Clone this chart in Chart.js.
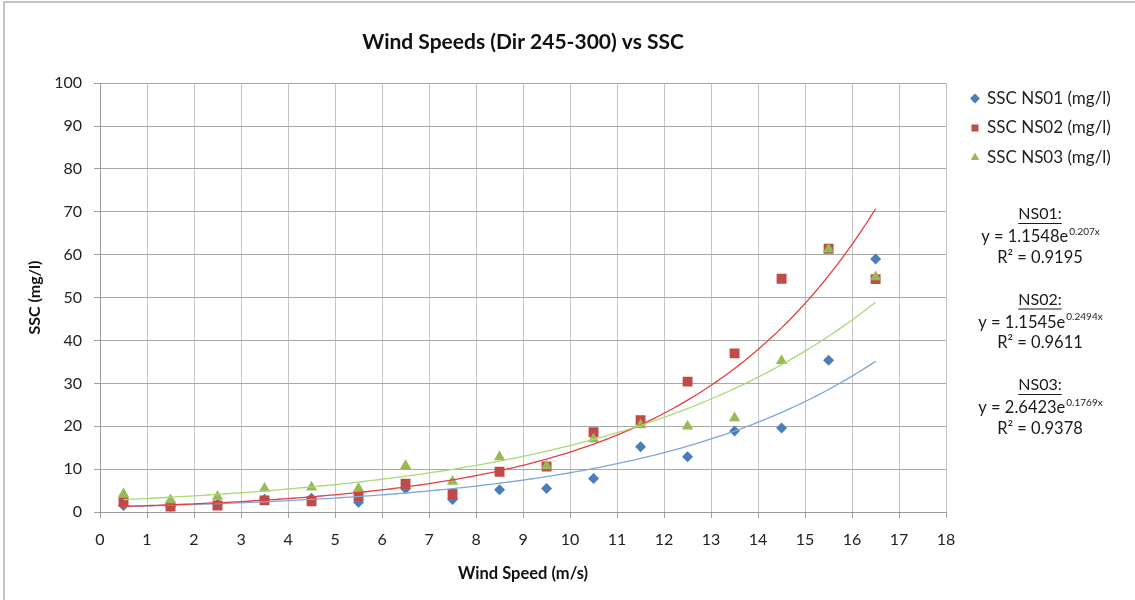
<!DOCTYPE html>
<html>
<head>
<meta charset="utf-8">
<script src="https://cdn.jsdelivr.net/npm/chart.js@4/dist/chart.umd.min.js"></script>
<style>
  html, body { margin: 0; padding: 0; background: #fff; }
  #wrap { width: 1135px; height: 600px; }
</style>
</head>
<body>
<div id="wrap"><canvas id="myChart" width="1135" height="600"></canvas></div>
<script>
let windSpeed = [0.5, 1.5, 2.5, 3.5, 4.5, 5.5, 6.5, 7.5, 8.5, 9.5, 10.5, 11.5, 12.5, 13.5, 14.5, 15.5, 16.5];

let ns01 = [1.5, 1.3, 1.8, 3.0, 3.2, 2.3, 5.4, 2.9, 5.2, 5.5, 7.8, 15.2, 12.9, 18.9, 19.6, 35.4, 59.0];
let ns02 = [2.3, 1.3, 1.5, 2.7, 2.5, 3.7, 6.6, 4.2, 9.4, 10.6, 18.6, 21.4, 30.4, 37.0, 54.4, 61.4, 54.3];
let ns03 = [4.2, 2.8, 3.6, 5.5, 5.8, 5.5, 10.8, 7.1, 12.8, 10.7, 17.0, 20.3, 20.0, 21.9, 35.3, 61.3, 54.8];

let seriesNames = ['SSC NS01 (mg/l)', 'SSC NS02 (mg/l)', 'SSC NS03 (mg/l)'];
let colors1 = ['#4A7EBB', '#BE4B48', '#98B954'];
let trendColors = ['#7FA6DA', '#E0403F', '#A9DA74'];
let markers = ['rectRot', 'rect', 'triangle'];
let markerSizes = [5.5, 7, 6.5];

// exponential trendlines y = a * e^(b x), as printed on the chart
let trendNames = ['NS01:', 'NS02:', 'NS03:'];
let trendA = ['1.1548', '1.1545', '2.6423'];
let trendB = ['0.207', '0.2494', '0.1769'];
let trendR2 = ['0.9195', '0.9611', '0.9378'];

let yTicks = [0, 10, 20, 30, 40, 50, 60, 70, 80, 90, 100];

const FONT = 'Lato, "Open Sans", sans-serif';

let datasets = [ns01, ns02, ns03].map((vals, i) => ({
    label: seriesNames[i],
    data: vals.map((v, j) => ({ x: windSpeed[j], y: v })),
    backgroundColor: colors1[i],
    borderColor: colors1[i],
    pointStyle: markers[i],
    pointRadius: markerSizes[i],
    pointHoverRadius: markerSizes[i],
    borderWidth: 0,
    showLine: false,
    order: 3 - i
}));

// frame lines, legend placement, trendlines, equation text
let extras = {
    id: 'extras',
    afterLayout(chart) {
        let lg = chart.legend;
        let p = lg.options.labels.padding;
        let w = lg.right - lg.left, h = lg.bottom - lg.top;
        lg.left = 975 - p - 3.5;
        lg.right = lg.left + w;
        lg.top = 90 - p;
        lg.bottom = lg.top + h;
    },
    beforeDraw(chart) {
        let ctx = chart.ctx;
        ctx.save();
        ctx.fillStyle = '#fff';
        ctx.fillRect(0, 0, chart.width, chart.height);
        ctx.strokeStyle = '#C4C4C4';
        ctx.lineWidth = 2;
        ctx.beginPath();
        ctx.moveTo(4, chart.height);
        ctx.lineTo(4, 2);
        ctx.lineTo(chart.width, 2);
        ctx.stroke();
        ctx.restore();
    },
    afterDatasetsDraw(chart) {
        let ctx = chart.ctx;
        let xs = chart.scales.x, ys = chart.scales.y;
        let x0 = windSpeed[0], x1 = windSpeed[windSpeed.length - 1];
        ctx.save();
        ctx.beginPath();
        ctx.rect(chart.chartArea.left, chart.chartArea.top,
            chart.chartArea.right - chart.chartArea.left, chart.chartArea.bottom - chart.chartArea.top);
        ctx.clip();
        for (let i = 0; i < 3; i++) {
            let a = parseFloat(trendA[i]), b = parseFloat(trendB[i]);
            ctx.strokeStyle = trendColors[i];
            ctx.lineWidth = 1.3;
            ctx.beginPath();
            for (let k = 0; k <= 160; k++) {
                let xv = x0 + (x1 - x0) * k / 160;
                let px = xs.getPixelForValue(xv);
                let py = ys.getPixelForValue(a * Math.exp(b * xv));
                if (k === 0) ctx.moveTo(px, py); else ctx.lineTo(px, py);
            }
            ctx.stroke();
        }
        ctx.restore();
    },
    afterDraw(chart) {
        let ctx = chart.ctx;
        let cx = 1040;
        ctx.save();
        ctx.fillStyle = '#1a1a1a';
        ctx.textBaseline = 'middle';
        for (let i = 0; i < 3; i++) {
            let top = 214 + i * 85.5;
            // header, underlined
            ctx.font = '16px ' + FONT;
            ctx.textAlign = 'center';
            ctx.fillText(trendNames[i], cx, top);
            let w = ctx.measureText(trendNames[i]).width;
            ctx.fillRect(cx - w / 2, top + 9, w, 1);
            // equation with superscript exponent
            let base = 'y = ' + trendA[i] + 'e';
            let sup = trendB[i] + 'x';
            ctx.font = '16.5px ' + FONT;
            let wb = ctx.measureText(base).width;
            ctx.font = '10px ' + FONT;
            let ws = ctx.measureText(sup).width;
            let sx = cx - (wb + ws) / 2;
            ctx.textAlign = 'left';
            ctx.font = '16.5px ' + FONT;
            ctx.fillText(base, sx, top + 23);
            ctx.font = '10px ' + FONT;
            ctx.fillText(sup, sx + wb + 1, top + 17.5);
            // R squared
            ctx.font = '16.5px ' + FONT;
            ctx.textAlign = 'center';
            ctx.fillText('R\u00B2 = ' + trendR2[i], cx, top + 43.5);
        }
        ctx.restore();
    }
};

let myChart = document.getElementById('myChart').getContext('2d');

let chart = new Chart(myChart, {
    type: 'scatter',
    data: { datasets: datasets },
    plugins: [extras],
    options: {
        responsive: false,
        animation: false,
        layout: { padding: { left: 0, right: 27, top: 0, bottom: 12 } },
        plugins: {
            tooltip: { enabled: false },
            title: {
                display: true,
                text: 'Wind Speeds (Dir 245-300) vs SSC',
                fullSize: false,
                color: '#111',
                font: { family: FONT, size: 21, weight: 'bold' },
                padding: { top: 30, bottom: 28 }
            },
            legend: {
                display: true,
                position: 'right',
                align: 'start',
                labels: {
                    usePointStyle: true,
                    boxWidth: 7,
                    boxHeight: 7,
                    padding: 12.5,
                    color: '#222',
                    font: { family: FONT, size: 17 },
                    sort: (a, b) => a.datasetIndex - b.datasetIndex
                }
            }
        },
        scales: {
            x: {
                type: 'linear',
                min: 0,
                max: 18,
                afterFit(scale) { scale.height = 76; },
                ticks: {
                    stepSize: 1,
                    padding: 12,
                    color: '#222',
                    font: { family: FONT, size: 16 }
                },
                grid: { color: '#C4C4C4', tickColor: '#A0A0A0', tickLength: 6, lineWidth: 1 },
                border: { color: '#9A9A9A' },
                title: {
                    display: true,
                    text: 'Wind Speed (m/s)',
                    color: '#111',
                    font: { family: FONT, size: 16.5, weight: 'bold' },
                    padding: { top: 0, bottom: 4 }
                }
            },
            y: {
                min: 0,
                max: 100,
                afterFit(scale) { scale.width = 100; },
                afterBuildTicks(scale) {
                    let t = [];
                    for (let v = 0; v <= 100; v += 5) t.push({ value: v });
                    scale.ticks = t;
                },
                ticks: {
                    padding: 12,
                    color: '#222',
                    font: { family: FONT, size: 16 },
                    callback: (v) => (yTicks.includes(v) ? v : '')
                },
                grid: {
                    color: (c) => (c.tick && c.tick.value % 10 === 0 ? '#A8A8A8' : '#D2D2D2'),
                    tickColor: (c) => (c.tick && c.tick.value % 10 === 0 ? '#A0A0A0' : 'rgba(0,0,0,0)'),
                    tickLength: 6
                },
                border: { color: '#9A9A9A' },
                title: {
                    display: true,
                    text: 'SSC (mg/l)',
                    color: '#111',
                    font: { family: FONT, size: 16, weight: 'bold' },
                    padding: { top: 25, bottom: 0 }
                }
            }
        }
    }
});
</script>
</body>
</html>
